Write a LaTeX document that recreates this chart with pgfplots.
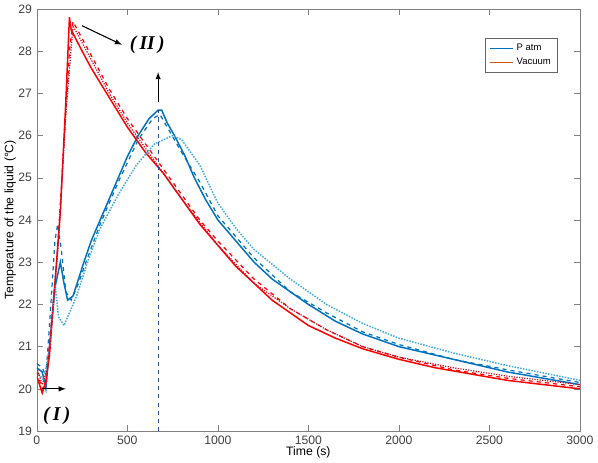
\documentclass[border=0pt]{standalone}
\usepackage{pgfplots}
\pgfplotsset{compat=1.18}
\usepackage{fontspec}
\setmainfont{Liberation Sans}
\newfontfamily\serif{Liberation Serif}
\definecolor{mblue}{RGB}{0,114,189}
\definecolor{lblue}{RGB}{60,170,225}
\definecolor{morange}{RGB}{217,83,25}
\definecolor{dred}{RGB}{190,20,40}
\definecolor{vblue}{RGB}{40,80,170}
\begin{document}
\begin{tikzpicture}
\begin{axis}[scale only axis, width=400pt, height=311pt,
  xmin=0, xmax=3000, ymin=19, ymax=29,
  xtick={0,500,...,3000}, ytick={19,...,29},
  tick label style={font=\small, color=black!75},
  /pgf/number format/assume math mode=true,
  /pgf/number format/1000 sep={},
  xlabel={Time (s)}, ylabel={Temperature of the liquid (\textdegree C)},
  label style={font=\small},
  xlabel style={yshift=5pt}, ylabel style={yshift=-5pt},
  axis line style={black!50}, tick style={black!50},
  tick align=inside, xtick pos=both, ytick pos=both,
  legend style={at={(0.96,0.93)}, anchor=north east, font=\scriptsize, draw=black!60, line width=0.8pt, cells={anchor=west}},
  legend cell align=left,
  clip=true]
% Patm solid
\addplot[mblue, line width=1.1pt] coordinates {(0,20.5)(30,20.4)(50,20.0)(70,21.0)(100,22.4)(130,23.0)(150,22.5)(170,22.1)(200,22.2)(230,22.6)(260,23.0)(300,23.5)(350,24.0)(400,24.5)(450,25.0)(500,25.5)(560,26.0)(620,26.4)(670,26.6)(690,26.6)(720,26.3)(760,26.0)(820,25.5)(870,25.0)(930,24.5)(1000,24.0)(1100,23.5)(1200,23.0)(1300,22.6)(1400,22.3)(1500,22.0)(1650,21.6)(1800,21.3)(2000,21.0)(2200,20.8)(2400,20.6)(2600,20.4)(2800,20.25)(3000,20.1)};
\addlegendentry{P atm}
% Vacuum solid
\addplot[red, line width=1.1pt, forget plot] coordinates {(0,20.3)(30,19.9)(50,20.2)(70,20.8)(100,22.5)(130,24.2)(160,26.8)(180,28.8)(190,28.5)(250,28.0)(300,27.6)(400,26.9)(500,26.2)(600,25.6)(700,25.1)(800,24.5)(900,23.9)(1000,23.4)(1100,22.9)(1200,22.5)(1300,22.1)(1400,21.8)(1500,21.5)(1650,21.2)(1800,20.95)(2000,20.7)(2200,20.5)(2400,20.35)(2600,20.2)(2800,20.1)(3000,20.0)};
\addlegendimage{morange, line width=1.1pt}
\addlegendentry{Vacuum}
% Patm dashed
\addplot[mblue, dashed, line width=0.9pt, forget plot] coordinates {(0,20.6)(30,20.5)(50,20.3)(70,21.5)(100,23.5)(115,23.9)(135,23.3)(160,22.3)(190,22.1)(230,22.5)(280,23.1)(350,23.9)(450,24.9)(560,25.9)(640,26.4)(680,26.5)(720,26.2)(800,25.6)(900,24.9)(1000,24.1)(1200,23.1)(1400,22.3)(1600,21.8)(1800,21.35)(2000,21.05)(2300,20.7)(2600,20.45)(3000,20.15)};
% Patm dotted
\addplot[lblue, densely dotted, line width=1.1pt, forget plot] coordinates {(0,20.4)(40,20.2)(70,21.0)(100,22.5)(120,21.7)(150,21.5)(180,21.8)(220,22.2)(280,23.0)(350,23.8)(450,24.6)(550,25.3)(650,25.8)(750,26.0)(800,25.9)(900,25.3)(1000,24.4)(1100,23.8)(1200,23.3)(1400,22.6)(1600,22.0)(1800,21.55)(2000,21.2)(2300,20.85)(2600,20.55)(3000,20.2)};
% Vacuum dashed
\addplot[red, dashed, line width=0.9pt, forget plot] coordinates {(0,20.4)(30,20.0)(50,20.1)(80,21.5)(110,23.0)(150,25.8)(180,28.0)(200,28.7)(250,28.3)(300,27.9)(400,27.1)(500,26.4)(600,25.8)(700,25.2)(800,24.6)(900,24.0)(1000,23.5)(1200,22.6)(1400,21.9)(1600,21.4)(1800,21.0)(2000,20.75)(2300,20.45)(2600,20.25)(3000,20.05)};
% Vacuum dotted
\addplot[dred, densely dotted, line width=0.9pt, forget plot] coordinates {(0,20.5)(30,20.1)(60,20.5)(90,22.0)(120,23.5)(160,26.5)(200,28.6)(250,28.2)(300,27.8)(400,27.0)(500,26.3)(600,25.7)(700,25.1)(800,24.5)(1000,23.4)(1200,22.5)(1400,21.9)(1600,21.4)(1800,21.0)(2000,20.75)(2300,20.5)(2600,20.3)(3000,20.1)};
% vertical line
\addplot[vblue, dashed, line width=0.8pt, forget plot] coordinates {(670,19)(670,26.6)};
\draw[-latex, line width=0.8pt] (axis cs:30,20) -- (axis cs:160,20);
\node[font=\serif\bfseries\itshape\Large] at (axis cs:110,19.35) {(\,I\,)};
\draw[-latex, line width=0.8pt] (axis cs:250,28.6) -- (axis cs:470,28.15);
\node[font=\serif\bfseries\itshape\Large] at (axis cs:610,28.15) {(\,II\,)};
\draw[-latex, line width=0.8pt] (axis cs:670,26.8) -- (axis cs:670,27.5);
\end{axis}
\end{tikzpicture}
\end{document}
